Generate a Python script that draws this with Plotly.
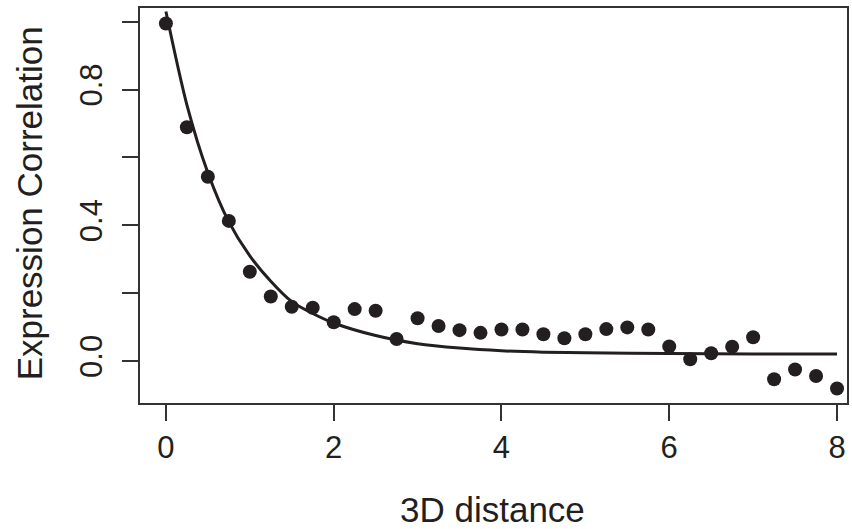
import plotly.graph_objects as go

# Observed data points
distance = [0, 0.25, 0.5, 0.75, 1.0, 1.25, 1.5, 1.75, 2.0, 2.25, 2.5, 2.75,
            3.0, 3.25, 3.5, 3.75, 4.0, 4.25, 4.5, 4.75, 5.0, 5.25, 5.5, 5.75,
            6.0, 6.25, 6.5, 6.75, 7.0, 7.25, 7.5, 7.75, 8.0]
correlation = [0.995, 0.689, 0.543, 0.413, 0.263, 0.190, 0.160, 0.157, 0.114,
               0.153, 0.148, 0.065, 0.126, 0.103, 0.091, 0.083, 0.093, 0.093,
               0.079, 0.067, 0.079, 0.094, 0.099, 0.093, 0.043, 0.005, 0.023,
               0.042, 0.070, -0.054, -0.025, -0.044, -0.081]

# Fitted decay curve
fit_x = [0, 0.25, 0.5, 0.75, 1.0, 1.25, 1.5, 1.75, 2.0, 2.5, 3.0, 3.5, 4.0,
         4.5, 5.0, 6.0, 7.0, 8.0]
fit_y = [1.03, 0.755, 0.555, 0.41, 0.31, 0.235, 0.175, 0.14, 0.112, 0.075,
         0.051, 0.038, 0.030, 0.026, 0.024, 0.022, 0.021, 0.021]

x_ticks = [0, 2, 4, 6, 8]
x_labels = ["0", "2", "4", "6", "8"]
y_ticks = [0.0, 0.2, 0.4, 0.6, 0.8, 1.0]
y_labels = ["0.0", "", "0.4", "", "0.8", ""]

INK = "#231f20"
FONT = "Liberation Sans, Arial, Helvetica, sans-serif"

fig = go.Figure()
fig.add_trace(go.Scatter(x=fit_x, y=fit_y, mode="lines",
                         line=dict(color=INK, width=3, shape="spline", smoothing=0.8),
                         hoverinfo="skip", showlegend=False))
fig.add_trace(go.Scatter(x=distance, y=correlation, mode="markers",
                         marker=dict(color=INK, size=14, line=dict(width=0)),
                         showlegend=False))

fig.update_layout(
    width=852, height=529,
    margin=dict(l=140, r=3, t=8, b=126),
    plot_bgcolor="white", paper_bgcolor="white",
    font=dict(family=FONT, color=INK, size=31),
    xaxis=dict(range=[-0.309, 8.119], tickvals=x_ticks, ticktext=x_labels,
               ticks="outside", ticklen=16, tickwidth=2, tickcolor="#333",
               showline=True, linecolor="#333", linewidth=2, mirror=True,
               showgrid=False, zeroline=False,
               tickfont=dict(size=31, color=INK)),
    yaxis=dict(range=[-0.1238, 1.0405], tickvals=y_ticks, ticktext=y_labels,
               ticks="outside", ticklen=16, tickwidth=2, tickcolor="#333",
               tickangle=-90, ticklabelstandoff=8,
               showline=True, linecolor="#333", linewidth=2, mirror=True,
               showgrid=False, zeroline=False,
               tickfont=dict(size=31, color=INK)),
    annotations=[
        dict(text="3D distance", xref="paper", yref="paper",
             x=(493 - 140) / 709, y=(403 - 509) / 395,
             xanchor="center", yanchor="middle", showarrow=False,
             font=dict(size=35, color=INK, family=FONT)),
        dict(text="Expression Correlation", xref="paper", yref="paper",
             x=(29 - 140) / 709, y=(403 - 203) / 395, textangle=-90,
             xanchor="center", yanchor="middle", showarrow=False,
             font=dict(size=35, color=INK, family=FONT)),
    ],
)

fig.write_html("out.html")
